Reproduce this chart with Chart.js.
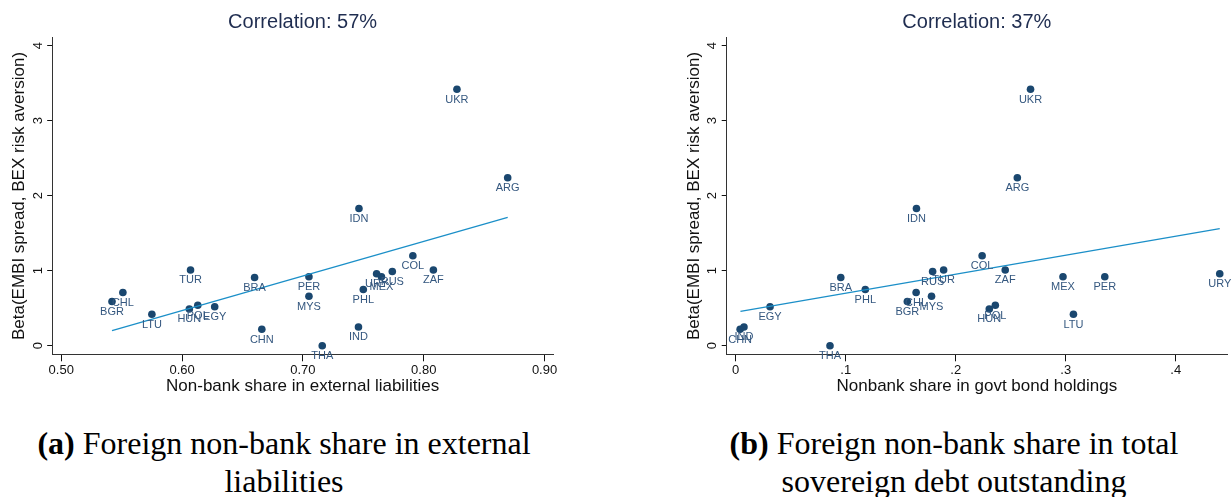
<!DOCTYPE html>
<html>
<head>
<meta charset="utf-8">
<script src="https://cdn.jsdelivr.net/npm/chart.js@4.4.1/dist/chart.umd.min.js"></script>
<style>
    body {
        margin: 0;
        background: #fff;
        width: 1231px;
        height: 497px;
        overflow: hidden;
        position: relative;
    }
    canvas {
        position: absolute;
        top: 0;
    }
    #externalChart { left: 0; }
    #govtChart { left: 615px; }
    .caption {
        position: absolute;
        top: 424px;
        width: 568px;
        font-family: "Liberation Serif", serif;
        font-size: 32px;
        line-height: 38px;
        text-align: center;
        color: #000;
    }
    .caption b { font-weight: bold; }
</style>
</head>
<body>
<canvas id="externalChart" width="615" height="400"></canvas>
<canvas id="govtChart" width="616" height="400"></canvas>
<div class="caption" style="left: 0;"><b>(a)</b> Foreign non-bank share in external<br>liabilities</div>
<div class="caption" style="left: 670px;"><b>(b)</b> Foreign non-bank share in total<br>sovereign debt outstanding</div>

<script>
const countries = ["ARG", "BGR", "BRA", "CHL", "CHN", "COL", "EGY", "HUN", "IDN", "IND", "LTU",
    "MEX", "MYS", "PER", "PHL", "POL", "RUS", "THA", "TUR", "UKR", "URY", "ZAF"];

// beta of EMBI spread on BEX risk aversion (same for both panels)
const betaValues = [2.24, 0.59, 0.91, 0.71, 0.22, 1.20, 0.52, 0.49, 1.83, 0.25, 0.42,
    0.92, 0.66, 0.92, 0.75, 0.54, 0.99, 0.00, 1.01, 3.42, 0.96, 1.01];

// panel a: non-bank share in external liabilities
const externalShare = [0.8695, 0.542, 0.660, 0.551, 0.666, 0.791, 0.627, 0.606, 0.7464, 0.746, 0.575,
    0.765, 0.705, 0.705, 0.750, 0.613, 0.774, 0.716, 0.607, 0.8275, 0.761, 0.808];

// panel b: nonbank share in govt bond holdings
const govtShare = [0.256, 0.156, 0.0955, 0.164, 0.004, 0.224, 0.0312, 0.2305, 0.1643, 0.0075, 0.307,
    0.2975, 0.178, 0.3355, 0.1178, 0.236, 0.179, 0.0857, 0.189, 0.268, 0.44, 0.245];

// fitted lines (end points)
const externalFitX = [0.542, 0.8695];
const externalFitY = [0.20, 1.71];
const govtFitX = [0.0043, 0.44];
const govtFitY = [0.458, 1.56];

const betaTicks = [0, 1, 2, 3, 4];
const externalTicks = [0.5, 0.6, 0.7, 0.8, 0.9];
const govtTicks = [0, 0.1, 0.2, 0.3, 0.4];

const FONT = "'Liberation Sans', Arial, sans-serif";
const MARKER = "#1a476f";

const markerLabels = {
    id: "markerLabels",
    afterDatasetsDraw(chart) {
        const meta = chart.getDatasetMeta(1);
        const ctx = chart.ctx;
        ctx.save();
        ctx.font = `11px ${FONT}`;
        ctx.fillStyle = "#34577f";
        ctx.textAlign = "center";
        ctx.textBaseline = "middle";
        meta.data.forEach((point, i) => {
            ctx.fillText(countries[i], point.x, point.y + 10.5);
        });
        ctx.restore();
    },
};

function toPoints(xs, ys) {
    return xs.map((x, i) => ({ x: x, y: ys[i] }));
}

function makeChart(canvasId, setup) {
    return new Chart(document.getElementById(canvasId), {
        type: "scatter",
        data: {
            datasets: [
                {
                    type: "line",
                    data: toPoints(setup.fitX, setup.fitY),
                    borderColor: "#1b8fc8",
                    borderWidth: 1.3,
                    pointRadius: 0,
                    fill: false,
                },
                {
                    data: toPoints(setup.xs, betaValues),
                    backgroundColor: MARKER,
                    borderColor: MARKER,
                    pointRadius: 3.8,
                    borderWidth: 0,
                },
            ],
        },
        options: {
            responsive: false,
            animation: false,
            events: [],
            layout: {
                padding: { left: setup.padLeft, right: setup.padRight, top: 0, bottom: 0 },
            },
            plugins: {
                legend: { display: false },
                tooltip: { enabled: false },
                title: {
                    display: true,
                    text: setup.title,
                    fullSize: false,
                    color: "#1f2d50",
                    font: { family: FONT, size: 20, weight: "normal" },
                    padding: { top: 10.5, bottom: 3.2 },
                },
            },
            scales: {
                x: {
                    type: "linear",
                    position: "bottom",
                    min: setup.xMin,
                    max: setup.xMax,
                    afterBuildTicks: (scale) => {
                        scale.ticks = setup.xTicks.map((v) => ({ value: v }));
                    },
                    afterFit: (scale) => {
                        scale.height = 45.7;
                    },
                    ticks: {
                        callback: setup.xLabel,
                        autoSkip: false,
                        maxRotation: 0,
                        padding: 1.5,
                        color: "#111",
                        font: { family: FONT, size: 13 },
                    },
                    grid: { drawOnChartArea: false, tickLength: 7, color: "#111" },
                    border: { display: true, color: "#333", width: 1 },
                    title: {
                        display: true,
                        text: setup.xTitle,
                        color: "#111",
                        font: { family: FONT, size: 17 },
                        padding: { top: 0, bottom: 3.3 },
                    },
                },
                y: {
                    type: "linear",
                    min: -0.115,
                    max: 4.107,
                    afterBuildTicks: (scale) => {
                        scale.ticks = betaTicks.map((v) => ({ value: v }));
                    },
                    afterFit: (scale) => {
                        scale.width = 52.2;
                    },
                    ticks: {
                        minRotation: 90,
                        maxRotation: 90,
                        crossAlign: "center",
                        padding: 5.5,
                        color: "#111",
                        font: { family: FONT, size: 13 },
                    },
                    grid: { drawOnChartArea: false, tickLength: 5, color: "#111" },
                    border: { display: true, color: "#333", width: 1 },
                    title: {
                        display: true,
                        text: "Beta(EMBI spread, BEX risk aversion)",
                        color: "#111",
                        font: { family: FONT, size: 17 },
                        padding: { top: 9.4, bottom: 0 },
                    },
                },
            },
        },
        plugins: [markerLabels],
    });
}

makeChart("externalChart", {
    xs: externalShare,
    fitX: externalFitX,
    fitY: externalFitY,
    title: "Correlation: 57%",
    xTitle: "Non-bank share in external liabilities",
    xTicks: externalTicks,
    xLabel: (v) => v.toFixed(2),
    xMin: 0.4925,
    xMax: 0.907,
    padLeft: 0,
    padRight: 62,
});

makeChart("govtChart", {
    xs: govtShare,
    fitX: govtFitX,
    fitY: govtFitY,
    title: "Correlation: 37%",
    xTitle: "Nonbank share in govt bond holdings",
    xTicks: govtTicks,
    xLabel: (v) => (v === 0 ? "0" : v.toFixed(1).replace(/^0/, "")),
    xMin: -0.0082,
    xMax: 0.4466,
    padLeft: 59.5,
    padRight: 4,
});
</script>
</body>
</html>
